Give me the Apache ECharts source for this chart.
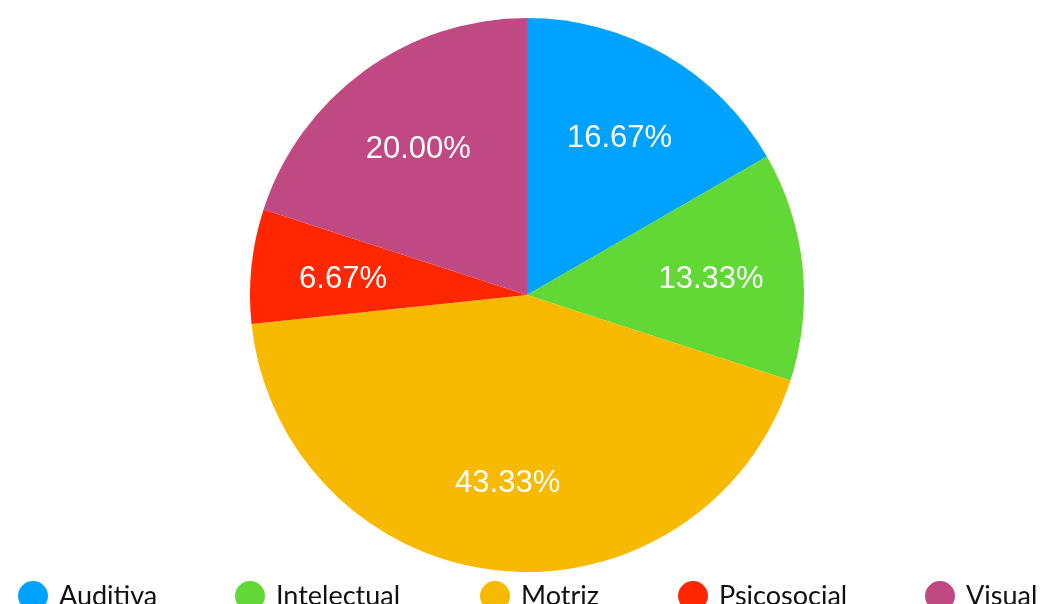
<!DOCTYPE html>
<html>
<head>
<meta charset="utf-8">
<script src="https://cdn.jsdelivr.net/npm/echarts@6/dist/echarts.min.js"></script>
<style>
html,body{margin:0;padding:0;background:#fff;}
#chart{width:1042px;height:604px;}
</style>
</head>
<body>
<div id="chart"></div>
<script>
// data ---------------------------------------------------
let categories = ["Auditiva", "Intelectual", "Motriz", "Psicosocial", "Visual"];
let values = [5, 4, 13, 2, 6];
let percentLabels = ["16.67%", "13.33%", "43.33%", "6.67%", "20.00%"];
let colors = ["#00A2FF", "#61D836", "#F8BA00", "#FF2600", "#C04983"];
let legendLeft = [13, 230, 475, 673, 920];

let chart = echarts.init(document.getElementById('chart'));

let pieData = categories.map((name, i) => ({name: name, value: values[i], itemStyle: {color: colors[i]}}));

// one legend per item so each sits where the reference puts it
let legends = categories.map((name, i) => ({
    data: [name],
    left: legendLeft[i],
    top: 576,
    icon: 'circle',
    itemWidth: 30,
    itemHeight: 30,
    itemGap: 0,
    selectedMode: false,
    textStyle: {
        fontFamily: 'Lato',
        fontSize: 27,
        color: '#111',
        padding: [0, 0, 6, 6]
    }
}));

let option = {
    animation: false,
    legend: legends,
    series: [
        {
            type: 'pie',
            center: [527, 295],
            radius: [0, 277],
            startAngle: 90,
            clockwise: true,
            label: {show: false},
            labelLine: {show: false},
            data: pieData
        },
        {
            // transparent ring only used to place the percent labels
            type: 'pie',
            center: [527, 299],
            radius: [92, 272],
            startAngle: 90,
            clockwise: true,
            silent: true,
            itemStyle: {color: 'rgba(0,0,0,0)'},
            label: {
                show: true,
                position: 'inside',
                color: '#fff',
                fontFamily: 'Liberation Sans',
                fontSize: 31,
                padding: [8, 0, 0, 0],
                formatter: (p) => percentLabels[p.dataIndex]
            },
            labelLine: {show: false},
            data: categories.map((name, i) => ({name: name, value: values[i]}))
        }
    ]
};

chart.setOption(option);
</script>
</body>
</html>
